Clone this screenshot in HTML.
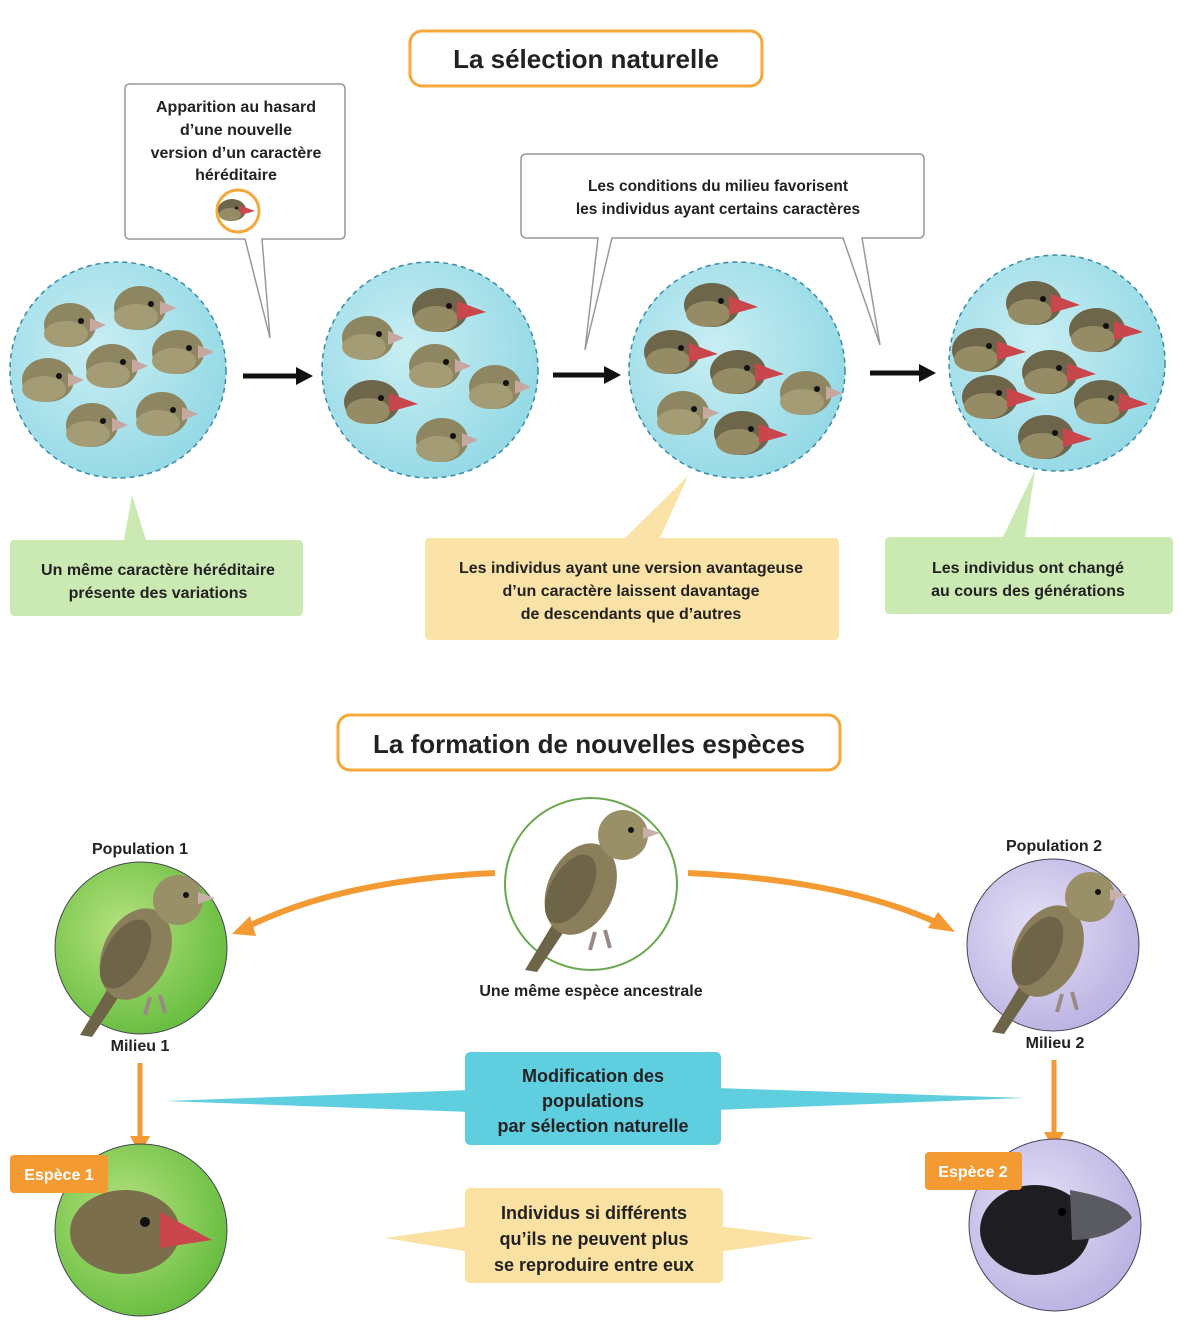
<!DOCTYPE html>
<html><head><meta charset="utf-8"><style>
body{margin:0;background:#fff;}
svg text{font-family:"Liberation Sans",sans-serif;font-weight:bold;fill:#222;}
</style></head><body>
<svg width="1181" height="1336" viewBox="0 0 1181 1336" xmlns="http://www.w3.org/2000/svg">
<defs>
<radialGradient id="cy" cx="0.4" cy="0.4" r="0.7"><stop offset="0" stop-color="#c9eef3"/><stop offset="1" stop-color="#8fd7e4"/></radialGradient>
<radialGradient id="gr" cx="0.4" cy="0.4" r="0.7"><stop offset="0" stop-color="#b6e27e"/><stop offset="1" stop-color="#5fb93a"/></radialGradient>
<radialGradient id="lv" cx="0.4" cy="0.4" r="0.7"><stop offset="0" stop-color="#e4e0f6"/><stop offset="1" stop-color="#b7aee0"/></radialGradient>
<g id="h"><ellipse cx="0" cy="0" rx="26" ry="22" fill="#8e8660"/><ellipse cx="-4" cy="9" rx="22" ry="13" fill="#a49c74"/><polygon points="20,-7 36,0 20,7" fill="#c6a8a0"/><circle cx="11" cy="-4" r="3" fill="#111"/></g>
<g id="r"><ellipse cx="0" cy="0" rx="28" ry="22" fill="#6e664a"/><ellipse cx="-4" cy="9" rx="22" ry="13" fill="#958c66"/><polygon points="17,-9 46,2 17,10" fill="#c9474c"/><circle cx="9" cy="-4" r="3" fill="#111"/></g>
<g id="bird">
<polygon points="-30,40 -60,90 -48,92 -20,50" fill="#6e6448"/>
<ellipse cx="0" cy="10" rx="33" ry="48" fill="#8a7f5a" transform="rotate(25)"/>
<ellipse cx="-8" cy="15" rx="20" ry="38" fill="#6e6448" transform="rotate(30)"/>
<circle cx="38" cy="-45" r="25" fill="#9a9068"/><polygon points="58,-53 75,-47 58,-41" fill="#c8b0a8"/><circle cx="46" cy="-50" r="3" fill="#111"/>
<path d="M10 52 l-5 18 M20 50 l5 18" stroke="#9a8a86" stroke-width="4"/>
</g>
</defs>

<rect x="410" y="31" width="352" height="55" rx="12" fill="#fff" stroke="#f6a83a" stroke-width="3"/>
<text x="586" y="68" font-size="26" text-anchor="middle">La sélection naturelle</text>

<path d="M130 84 H340 Q345 84 345 89 V234 Q345 239 340 239 H262 L270 338 L245 239 H130 Q125 239 125 234 V89 Q125 84 130 84Z" fill="#fff" stroke="#999" stroke-width="1.5"/>
<text font-size="16" text-anchor="middle"><tspan x="236" y="112">Apparition au hasard</tspan><tspan x="236" y="135">d’une nouvelle</tspan><tspan x="236" y="158">version d’un caractère</tspan><tspan x="236" y="180">héréditaire</tspan></text>
<circle cx="238" cy="211" r="21" fill="#fff" stroke="#f6a83a" stroke-width="3"/>
<use href="#r" transform="translate(232,210) scale(0.5)"/>

<path d="M527 154 H919 Q924 154 924 159 V232 Q924 238 919 238 H862 L880 345 L843 238 H612 L585 350 L598 238 H527 Q521 238 521 232 V159 Q521 154 527 154Z" fill="#fff" stroke="#999" stroke-width="1.5"/>
<text font-size="15.5" text-anchor="middle"><tspan x="718" y="191">Les conditions du milieu favorisent</tspan><tspan x="718" y="214">les individus ayant certains caractères</tspan></text>

<g stroke="#3a8aa8" stroke-width="1.5" stroke-dasharray="5,4" fill="url(#cy)">
<circle cx="118" cy="370" r="108"/><circle cx="430" cy="370" r="108"/><circle cx="737" cy="370" r="108"/><circle cx="1057" cy="363" r="108"/>
</g>
<use href="#h" x="70" y="325"/><use href="#h" x="140" y="308"/><use href="#h" x="48" y="380"/><use href="#h" x="112" y="366"/><use href="#h" x="178" y="352"/><use href="#h" x="92" y="425"/><use href="#h" x="162" y="414"/>
<use href="#h" x="368" y="338"/><use href="#r" x="440" y="310"/><use href="#h" x="435" y="366"/><use href="#r" x="372" y="402"/><use href="#h" x="495" y="387"/><use href="#h" x="442" y="440"/>
<use href="#r" x="712" y="305"/><use href="#r" x="672" y="352"/><use href="#r" x="738" y="372"/><use href="#h" x="806" y="393"/><use href="#h" x="683" y="413"/><use href="#r" x="742" y="433"/>
<use href="#r" x="1034" y="303"/><use href="#r" x="1097" y="330"/><use href="#r" x="980" y="350"/><use href="#r" x="1050" y="372"/><use href="#r" x="990" y="397"/><use href="#r" x="1102" y="402"/><use href="#r" x="1046" y="437"/>

<g stroke="#111" stroke-width="5"><line x1="243" y1="376" x2="298" y2="376"/><line x1="553" y1="375" x2="606" y2="375"/><line x1="870" y1="373" x2="921" y2="373"/></g>
<g fill="#111"><polygon points="296,367 313,376 296,385"/><polygon points="604,366 621,375 604,384"/><polygon points="919,364 936,373 919,382"/></g>

<path d="M14 540 H124 L132 495 L146 540 H298 Q303 540 303 545 V611 Q303 616 298 616 H15 Q10 616 10 611 V545 Q10 540 14 540Z" fill="#cbe9b3"/>
<text font-size="16" text-anchor="middle"><tspan x="158" y="575">Un même caractère héréditaire</tspan><tspan x="158" y="598">présente des variations</tspan></text>
<path d="M430 538 H625 L688 476 L660 538 H834 Q839 538 839 543 V635 Q839 640 834 640 H430 Q425 640 425 635 V543 Q425 538 430 538Z" fill="#fbe2a6"/>
<text font-size="16" text-anchor="middle"><tspan x="631" y="573">Les individus ayant une version avantageuse</tspan><tspan x="631" y="596">d’un caractère laissent davantage</tspan><tspan x="631" y="619">de descendants que d’autres</tspan></text>
<path d="M890 537 H1003 L1035 470 L1025 537 H1168 Q1173 537 1173 542 V609 Q1173 614 1168 614 H890 Q885 614 885 609 V542 Q885 537 890 537Z" fill="#cbe9b3"/>
<text font-size="16" text-anchor="middle"><tspan x="1028" y="573">Les individus ont changé</tspan><tspan x="1028" y="596">au cours des générations</tspan></text>

<rect x="338" y="715" width="502" height="55" rx="12" fill="#fff" stroke="#f6a83a" stroke-width="3"/>
<text x="589" y="753" font-size="26" text-anchor="middle">La formation de nouvelles espèces</text>

<circle cx="591" cy="884" r="86" fill="#fff" stroke="#6aa84f" stroke-width="2"/>
<use href="#bird" x="585" y="880"/>
<text x="591" y="996" font-size="16" text-anchor="middle">Une même espèce ancestrale</text>

<text x="140" y="854" font-size="16" text-anchor="middle">Population 1</text>
<circle cx="141" cy="948" r="86" fill="url(#gr)" stroke="#445" stroke-width="1"/>
<use href="#bird" x="140" y="945"/>
<text x="140" y="1051" font-size="16" text-anchor="middle">Milieu 1</text>

<text x="1054" y="851" font-size="16" text-anchor="middle">Population 2</text>
<circle cx="1053" cy="945" r="86" fill="url(#lv)" stroke="#445" stroke-width="1"/>
<use href="#bird" x="1052" y="942"/>
<text x="1055" y="1048" font-size="16" text-anchor="middle">Milieu 2</text>

<path d="M495 873 Q340 880 245 928" fill="none" stroke="#f39a33" stroke-width="6"/>
<polygon points="232,934 250,916 256,936" fill="#f39a33"/>
<path d="M688 873 Q845 880 940 924" fill="none" stroke="#f39a33" stroke-width="6"/>
<polygon points="955,932 928,928 938,912" fill="#f39a33"/>
<line x1="140" y1="1063" x2="140" y2="1138" stroke="#f39a33" stroke-width="5"/><polygon points="130,1136 150,1136 140,1154" fill="#f39a33"/>
<line x1="1054" y1="1060" x2="1054" y2="1134" stroke="#f39a33" stroke-width="5"/><polygon points="1044,1132 1064,1132 1054,1150" fill="#f39a33"/>

<polygon points="165,1101 470,1090 470,1112" fill="#5fcfe0"/><polygon points="1025,1098 716,1088 716,1110" fill="#5fcfe0"/>
<rect x="465" y="1052" width="256" height="93" rx="5" fill="#5fcfe0"/>
<text font-size="18" text-anchor="middle"><tspan x="593" y="1082">Modification des</tspan><tspan x="593" y="1107">populations</tspan><tspan x="593" y="1132">par sélection naturelle</tspan></text>
<polygon points="385,1238 470,1226 470,1252" fill="#fbe1a2"/><polygon points="815,1238 718,1226 718,1252" fill="#fbe1a2"/>
<rect x="465" y="1188" width="258" height="95" rx="5" fill="#fbe1a2"/>
<text font-size="18" text-anchor="middle"><tspan x="594" y="1219">Individus si différents</tspan><tspan x="594" y="1245">qu’ils ne peuvent plus</tspan><tspan x="594" y="1271">se reproduire entre eux</tspan></text>

<circle cx="141" cy="1230" r="86" fill="url(#gr)" stroke="#445" stroke-width="1"/>
<ellipse cx="125" cy="1232" rx="55" ry="42" fill="#7a6e4c"/><polygon points="160,1212 212,1240 160,1248" fill="#c9474c"/><circle cx="145" cy="1222" r="5" fill="#111"/>
<rect x="10" y="1155" width="98" height="38" rx="4" fill="#f39a33"/>
<text x="59" y="1180" font-size="16" text-anchor="middle" style="fill:#fff">Espèce 1</text>

<circle cx="1055" cy="1225" r="86" fill="url(#lv)" stroke="#445" stroke-width="1"/>
<ellipse cx="1035" cy="1230" rx="55" ry="45" fill="#1e1e22"/><path d="M1070 1190 Q1125 1200 1132 1218 Q1110 1240 1072 1240Z" fill="#5a5a62"/><circle cx="1062" cy="1212" r="4" fill="#000"/>
<rect x="925" y="1152" width="97" height="38" rx="4" fill="#f39a33"/>
<text x="973" y="1177" font-size="16" text-anchor="middle" style="fill:#fff">Espèce 2</text>
</svg>
</body></html>
